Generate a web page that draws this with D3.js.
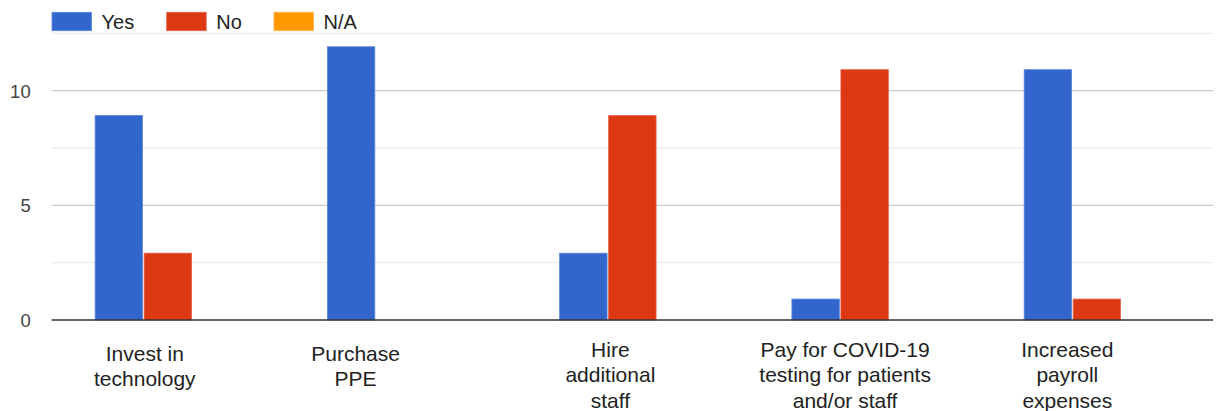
<!DOCTYPE html>
<html>
<head>
<meta charset="utf-8">
<script src="https://cdn.jsdelivr.net/npm/d3@7"></script>
<style>
  html, body { margin: 0; padding: 0; background: #fff; }
  svg { display: block; font-family: "Liberation Sans", Arial, sans-serif; }
</style>
</head>
<body>
<svg id="chart" width="1217" height="411"></svg>
<script>
// Survey responses: how relief funds were used
const categories = [
  "Invest in technology",
  "Purchase PPE",
  "Hire additional staff",
  "Pay for COVID-19 testing for patients and/or staff",
  "Increased payroll expenses"
];
// Wrapped category label lines
const categoryLines = [
  ["Invest in", "technology"],
  ["Purchase", "PPE"],
  ["Hire", "additional", "staff"],
  ["Pay for COVID-19", "testing for patients", "and/or staff"],
  ["Increased", "payroll", "expenses"]
];
const seriesNames = ["Yes", "No", "N/A"];
const yesValues = [9, 12, 3, 1, 11];
const noValues  = [3, 0, 9, 11, 1];
const naValues  = [0, 0, 0, 0, 0];
const yTickValues = [0, 5, 10];
const yGridValues = [0, 2.5, 5, 7.5, 10, 12.5];

// Layout and style
const colors = { "Yes": "#3366cc", "No": "#dc3912", "N/A": "#ff9900" };
const strokeColors = { "Yes": "#5a85dd", "No": "#e8604a", "N/A": "#ffb040" };
const plot = { left: 51.7, right: 1213, top: 33.3, bottom: 320 };
const labelShift = [-23, -44.5, -22, -19.5, -29.5];

const svg = d3.select("#chart");

const seriesValues = [yesValues, noValues, naValues];
const rows = categories.map((c, i) => ({
  category: c,
  values: seriesNames.map((s, k) => ({ series: s, value: seriesValues[k][i] }))
}));

const x0 = d3.scaleBand()
  .domain(categories)
  .range([plot.left, plot.right])
  .paddingInner(0.374)
  .paddingOuter(0.187);

const x1 = d3.scaleBand()
  .domain(seriesNames)
  .range([0, x0.bandwidth()])
  .paddingInner(0.032);

const y = d3.scaleLinear()
  .domain([0, 12.5])
  .range([plot.bottom, plot.top]);

// Gridlines
svg.append("g")
  .selectAll("line")
  .data(yGridValues.filter(v => v !== 0))
  .join("line")
  .attr("x1", plot.left)
  .attr("x2", plot.right)
  .attr("y1", d => y(d))
  .attr("y2", d => y(d))
  .attr("stroke", d => (d % 5 === 0 ? "#cccccc" : "#ebebeb"))
  .attr("stroke-width", 1.3);

// Y axis tick labels
const yAxis = d3.axisLeft(y)
  .tickValues(yTickValues)
  .tickSize(0)
  .tickPadding(0)
  .tickFormat(d3.format("d"));

const yAxisG = svg.append("g")
  .attr("transform", `translate(${plot.left - 21}, 0)`)
  .call(yAxis);
yAxisG.select(".domain").remove();
yAxisG.selectAll("text")
  .attr("font-size", 18.5)
  .attr("fill", "#444")
  .attr("font-family", "'Liberation Sans', Arial, sans-serif")
  .attr("dy", "0.36em");

// Bars
const groups = svg.append("g")
  .selectAll("g")
  .data(rows)
  .join("g")
  .attr("transform", d => `translate(${x0(d.category)}, 0)`);

groups.selectAll("rect")
  .data(d => d.values.filter(v => v.value > 0))
  .join("rect")
  .attr("x", d => x1(d.series))
  .attr("y", d => y(d.value) + 2)
  .attr("width", x1.bandwidth())
  .attr("height", d => y(0) - y(d.value) - 2)
  .attr("fill", d => colors[d.series])
  .attr("stroke", d => strokeColors[d.series])
  .attr("stroke-width", 0.8);

// Baseline
svg.append("line")
  .attr("x1", plot.left)
  .attr("x2", plot.right)
  .attr("y1", y(0))
  .attr("y2", y(0))
  .attr("stroke", "#333")
  .attr("stroke-width", 1.4);

// Category labels
const lineHeight = 25.6;
const labels = svg.append("g")
  .selectAll("text")
  .data(categories)
  .join("text")
  .attr("text-anchor", "middle")
  .attr("font-size", 21)
  .attr("fill", "#222")
  .attr("x", (d, i) => x0(d) + x0.bandwidth() / 2 + labelShift[i])
  .attr("y", (d, i) => (categoryLines[i].length === 3 ? 356.5 : 360.5));

labels.each(function (d, i) {
  const t = d3.select(this);
  const cx = t.attr("x");
  categoryLines[i].forEach((line, j) => {
    t.append("tspan")
      .attr("x", cx)
      .attr("dy", j === 0 ? 0 : lineHeight)
      .text(line);
  });
});

// Legend
const legendX = [52, 166.7, 274];
const legend = svg.append("g")
  .selectAll("g")
  .data(seriesNames)
  .join("g")
  .attr("transform", (d, i) => `translate(${legendX[i]}, 12.3)`);

legend.append("rect")
  .attr("width", 39.5)
  .attr("height", 18.4)
  .attr("fill", d => colors[d])
  .attr("stroke", d => strokeColors[d])
  .attr("stroke-width", 0.8);

legend.append("text")
  .attr("x", 49.5)
  .attr("y", 16.6)
  .attr("font-size", 20)
  .attr("fill", "#222")
  .text(d => d);
</script>
</body>
</html>
